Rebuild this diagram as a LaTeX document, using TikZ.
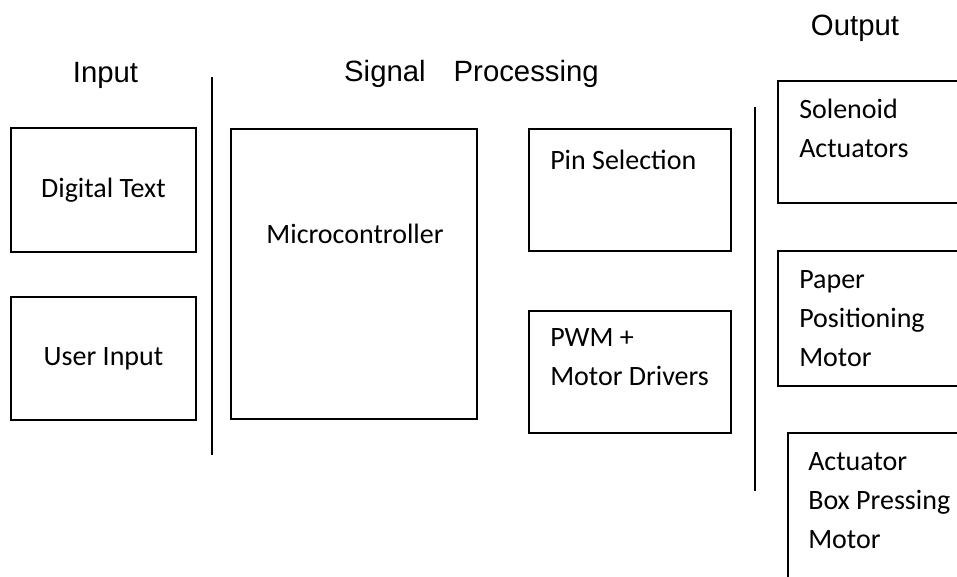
\documentclass[tikz,border=0pt]{standalone}
\usepackage{fontspec}
\setmainfont{Carlito}
\newfontfamily\headfont{Liberation Sans}
\begin{document}
\begin{tikzpicture}[x=0.75pt,y=-0.75pt,
  box/.style={draw=black,line width=1pt,inner sep=0pt,font=\fontsize{21}{29.25}\selectfont},
  txt/.style={inner sep=0pt,align=left,font=\fontsize{21}{29.25}\selectfont},
  head/.style={inner sep=0pt,anchor=base,font=\headfont\fontsize{22}{26}\selectfont},
  sep/.style={draw=black,line width=1pt}]
\useasboundingbox (0,0) rectangle (957,576);
\clip (0,0) rectangle (957,576);
% headings
\node[head] (hin) at (105.5,82) {Input};
\node[head] (hsp) at (471.5,81) {Signal\hspace*{21pt}Processing};
\node[head] (hout) at (855,35) {Output};
% separators
\coordinate (s1a) at (212,77);
\coordinate (s1b) at (212,455);
\coordinate (s2a) at (755,107);
\coordinate (s2b) at (755,491);
\draw[sep] (s1a) -- (s1b);
\draw[sep] (s2a) -- (s2b);
% input boxes
\node[box,minimum width=138.75pt,minimum height=93pt] (dt) at (103.5,190) {Digital Text};
\node[box,minimum width=138.75pt,minimum height=92.25pt] (ui) at (103.5,358.5) {User Input};
% signal processing
\node[box,minimum width=184.5pt,minimum height=217.5pt] (mc) at (354,274) {};
\node[txt] (mct) at (355,234) {Microcontroller};
\node[box,minimum width=151.5pt,minimum height=91.5pt] (ps) at (630,190) {};
\node[txt,anchor=north west] (pst) at (550,150) {Pin Selection};
\node[box,minimum width=151.5pt,minimum height=91.5pt] (pwm) at (630,372) {};
\node[txt,anchor=north west] (pwmt) at (550,328) {PWM +\\Motor Drivers};
% output
\node[box,minimum width=166.5pt,minimum height=91.5pt] (sol) at (889,142) {};
\node[txt,anchor=north west] (solt) at (799,99) {Solenoid\\Actuators};
\node[box,minimum width=166.5pt,minimum height=101.25pt] (pap) at (889,318.5) {};
\node[txt,anchor=north west] (papt) at (799,270) {Paper\\Positioning\\Motor};
\node[box,minimum width=166.5pt,minimum height=155.25pt] (act) at (899,536.5) {};
\node[txt,anchor=north west] (actt) at (808,452) {Actuator\\Box Pressing\\Motor};
\end{tikzpicture}
\end{document}
